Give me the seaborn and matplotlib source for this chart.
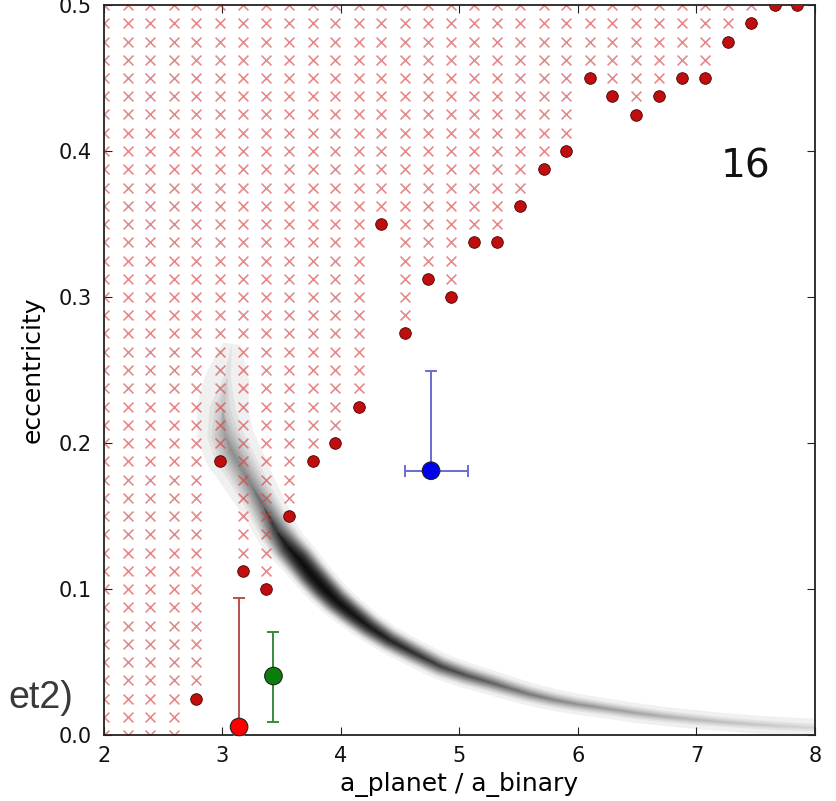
import numpy as np
import pandas as pd
import matplotlib
matplotlib.use("Agg")
import matplotlib.pyplot as plt
import seaborn as sns

# ---------------- data ----------------
# simulation grid (a_planet / a_binary columns, eccentricity rows)
grid_a = [2.00, 2.20, 2.39, 2.59, 2.78, 2.98, 3.17, 3.37, 3.56, 3.76, 3.95,
          4.15, 4.34, 4.54, 4.73, 4.93, 5.12, 5.32, 5.51, 5.71, 5.90, 6.10,
          6.29, 6.49, 6.68, 6.88, 7.07, 7.27, 7.46, 7.66, 7.85]
grid_e = np.linspace(0.0, 0.5, 41)
# eccentricity of the last stable (red dot) cell per column; nan = no stable cell
boundary_e = [np.nan, np.nan, np.nan, np.nan, 0.025, 0.1875, 0.1125, 0.1,
              0.15, 0.1875, 0.2, 0.225, 0.35, 0.275, 0.3125, 0.3, 0.3375,
              0.3375, 0.3625, 0.3875, 0.4, 0.45, 0.4375, 0.425, 0.4375,
              0.45, 0.45, 0.475, 0.4875, 0.5, 0.5]

# posterior density ridge (grey band): centre line and peak density
band_a = [3.08, 3.04, 3.00, 3.02, 3.08, 3.16, 3.25, 3.35, 3.46, 3.55, 3.65,
          3.75, 3.85, 3.96, 4.08, 4.24, 4.41, 4.62, 4.84, 5.05, 5.26, 5.42,
          5.59, 5.80, 6.00, 6.25, 6.50, 6.75, 7.00, 7.25, 7.50, 7.75, 8.00]
band_e = [0.268, 0.245, 0.224, 0.206, 0.194, 0.183, 0.170, 0.156, 0.139,
          0.129, 0.120, 0.110, 0.101, 0.092, 0.084, 0.074, 0.065, 0.056,
          0.047, 0.041, 0.036, 0.032, 0.028, 0.024, 0.021, 0.018, 0.015,
          0.0125, 0.0105, 0.0087, 0.0072, 0.006, 0.005]
band_density = [0.03, 0.10, 0.22, 0.38, 0.45, 0.46, 0.50, 0.60, 0.80, 0.92,
                0.96, 0.97, 0.97, 0.96, 0.95, 0.92, 0.88, 0.83, 0.76, 0.70,
                0.64, 0.59, 0.54, 0.49, 0.44, 0.40, 0.36, 0.32, 0.28, 0.25,
                0.22, 0.19, 0.16]
# full width of the smeared ridge, in pixels (style)
band_width_px = [36, 44, 52, 56, 56, 52, 48, 44, 42, 40, 39, 38, 37, 35, 33,
                 31, 29, 28, 27, 26, 25, 24, 23, 22, 21, 20, 20, 19, 19, 18,
                 18, 18, 18]

# fitted solutions with error bars
fit_a = [3.14, 3.43, 4.76]
fit_e = [0.0055, 0.0404, 0.181]
fit_e_lo = [0.0055, 0.0315, 0.0]
fit_e_hi = [0.088, 0.0304, 0.0685]
fit_a_lo = [0.0, 0.0, 0.22]
fit_a_hi = [0.0, 0.0, 0.315]
fit_color = ["#ff0000", "#0b7d0b", "#0000f0"]
fit_bar_color = ["#b85050", "#3a8a3a", "#6a6ad2"]

# ---------------- build tables ----------------
cross_rows, dot_rows = [], []
for a, b in zip(grid_a, boundary_e):
    if not np.isnan(b):
        dot_rows.append((a, b))
    for e in grid_e:
        if np.isnan(b) or e > b + 1e-9:
            cross_rows.append((a, e))
crosses = pd.DataFrame(cross_rows, columns=["a", "e"])
dots = pd.DataFrame(dot_rows, columns=["a", "e"])
fits = pd.DataFrame({"a": fit_a, "e": fit_e, "sol": ["r", "g", "b"]})

# ---------------- figure ----------------
plt.rcParams.update({
    "font.family": "DejaVu Sans",
    "xtick.direction": "in", "ytick.direction": "in",
    "xtick.top": True, "ytick.right": True,
    "xtick.major.size": 6, "ytick.major.size": 6,
    "xtick.major.width": 0.8, "ytick.major.width": 0.8,
    "xtick.color": "#222222", "ytick.color": "#222222",
    "xtick.labelcolor": "#111111", "ytick.labelcolor": "#111111",
    "axes.linewidth": 1.3, "axes.edgecolor": "#222222",
})

W, H = 837, 801
fig = plt.figure(figsize=(W / 100, H / 100), dpi=100)
ax = fig.add_axes([104 / W, 1 - 735 / H, 711 / W, 730 / H])
ax.set_xlim(2, 8)
ax.set_ylim(0, 0.5)
ax.autoscale(False)

# grey band: nested translucent ribbons around the ridge line
P = ax.transData.transform(np.column_stack([band_a, band_e]))
T = np.gradient(P, axis=0)
T /= np.linalg.norm(T, axis=1)[:, None]
Nrm = np.column_stack([-T[:, 1], T[:, 0]])
Wpx = np.asarray(band_width_px, float)
beta = 0.06
nlev = np.log(1 - np.asarray(band_density)) / np.log(1 - beta)
inv = ax.transData.inverted()
for k in range(1, int(np.ceil(nlev.max())) + 1):
    frac = np.clip((k - 1) / nlev, 0, 1)
    r = Wpx / 2 * (1 - frac ** 0.5) * np.clip(nlev - k + 1, 0, 1)
    if r.max() <= 0:
        continue
    up = P + Nrm * r[:, None]
    lo = P - Nrm * r[:, None]
    poly = inv.transform(np.vstack([up, lo[::-1]]))
    ax.fill(poly[:, 0], poly[:, 1], color=(0.06, 0.06, 0.06), alpha=beta,
            lw=0, zorder=1)

sns.scatterplot(data=crosses, x="a", y="e", marker="x", color="#d23c3c",
                s=50, linewidth=1.2, alpha=0.6, ax=ax, zorder=2, legend=False)
sns.scatterplot(data=dots, x="a", y="e", color="#c00e0e", s=70,
                edgecolor="#4a0000", linewidth=0.6, ax=ax, zorder=3,
                legend=False)

for i in range(len(fit_a)):
    xerr = None
    if fit_a_lo[i] > 0 or fit_a_hi[i] > 0:
        xerr = [[fit_a_lo[i]], [fit_a_hi[i]]]
    ax.errorbar([fit_a[i]], [fit_e[i]], yerr=[[fit_e_lo[i]], [fit_e_hi[i]]],
                xerr=xerr, fmt="none", ecolor=fit_bar_color[i],
                elinewidth=1.4, capsize=4.3, capthick=1.4, zorder=4)

sns.scatterplot(data=fits, x="a", y="e", hue="sol", palette=fit_color,
                s=160, edgecolor="#222222", linewidth=0.8, ax=ax, zorder=5,
                legend=False, clip_on=False)

ax.set_xlim(2, 8)
ax.set_ylim(0, 0.5)
ax.set_xticks([2, 3, 4, 5, 6, 7, 8])
ax.set_yticks([0.0, 0.1, 0.2, 0.3, 0.4, 0.5])
ax.tick_params(axis="x", labelsize=15, pad=8)
ax.tick_params(axis="y", labelsize=15, pad=9)
ax.set_xlabel("a_planet / a_binary", fontsize=18, labelpad=4)
ax.set_ylabel("eccentricity", fontsize=18, labelpad=10)

ax.text(0.903, 0.779, "16", transform=ax.transAxes, fontsize=28,
        ha="center", va="center", color="#111111")
fig.text(73 / W, 1 - 708 / H, "et2)", fontsize=27, ha="right",
         va="baseline", color="#3a3a3a", family="Liberation Sans")

fig.savefig("out.png", dpi=100)
